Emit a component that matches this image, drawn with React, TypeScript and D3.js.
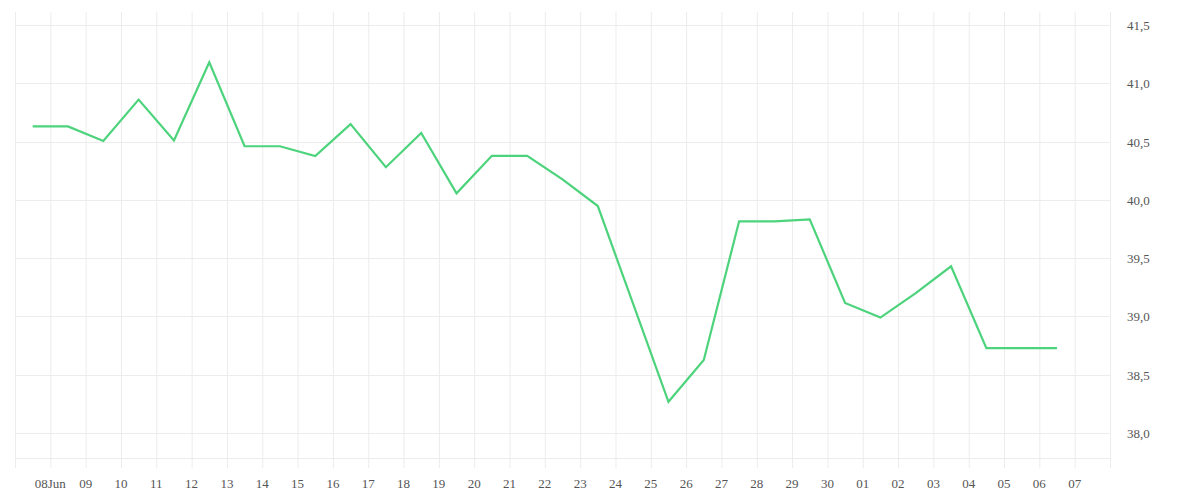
import React, { useEffect, useRef } from 'react';
import * as d3 from 'd3';

// daily readings, sampled at noon, starting 7 Jun
const startDate = new Date(Date.UTC(2024, 5, 7, 12));
const values = [
  40.63, 40.63, 40.505, 40.86, 40.51, 41.18, 40.46, 40.46, 40.376, 40.65,
  40.28, 40.573, 40.056, 40.378, 40.378, 40.176, 39.947, 39.107, 38.268, 38.626,
  39.816, 39.816, 39.833, 39.115, 38.99, 39.2, 39.43, 38.728, 38.728, 38.728,
];
const yTicks = [38.0, 38.5, 39.0, 39.5, 40.0, 40.5, 41.0, 41.5];

export default function App() {
  const svgRef = useRef<SVGSVGElement>(null);
  const width = 1200;
  const height = 500;

  useEffect(() => {
    if (!svgRef.current) return;
    const svg = d3.select(svgRef.current);
    svg.selectAll('*').remove();

    const margin = { top: 12, right: 90, bottom: 42, left: 15 };
    const x0 = margin.left;
    const x1 = width - margin.right;
    const y0 = height - margin.bottom;
    const y1 = margin.top;

    const data = values.map((v, i) => ({
      date: d3.utcHour.offset(startDate, i * 24),
      value: v,
    }));

    const xScale = d3.scaleUtc()
      .domain([new Date(Date.UTC(2024, 5, 7)), new Date(Date.UTC(2024, 6, 8))])
      .range([x0, x1]);

    // 41.5 at y=25, 38.0 at y=433
    const yScale = d3.scaleLinear()
      .domain([38.0, 41.5])
      .range([433, 25]);

    const gridColor = '#ececec';
    const days = d3.utcDay.range(new Date(Date.UTC(2024, 5, 7)), new Date(Date.UTC(2024, 6, 8)));

    // vertical grid + tick marks
    svg.append('g')
      .selectAll('line')
      .data(days)
      .join('line')
      .attr('x1', d => xScale(d) + 0.5)
      .attr('x2', d => xScale(d) + 0.5)
      .attr('y1', y1)
      .attr('y2', y0 + 10)
      .attr('stroke', gridColor)
      .attr('stroke-width', 1);

    // right edge
    svg.append('line')
      .attr('x1', x1 + 0.5)
      .attr('x2', x1 + 0.5)
      .attr('y1', y1)
      .attr('y2', y0 + 10)
      .attr('stroke', gridColor);

    // horizontal grid
    svg.append('g')
      .selectAll('line')
      .data(yTicks)
      .join('line')
      .attr('x1', x0)
      .attr('x2', x1)
      .attr('y1', d => Math.round(yScale(d)) + 0.5)
      .attr('y2', d => Math.round(yScale(d)) + 0.5)
      .attr('stroke', gridColor);

    // bottom border
    svg.append('line')
      .attr('x1', x0)
      .attr('x2', x1)
      .attr('y1', y0 + 0.5)
      .attr('y2', y0 + 0.5)
      .attr('stroke', gridColor);

    const fmtDay = d3.utcFormat('%d');
    svg.append('g')
      .selectAll('text')
      .data(days.slice(1))
      .join('text')
      .attr('x', d => xScale(d))
      .attr('y', 488)
      .attr('text-anchor', 'middle')
      .attr('fill', '#555')
      .style('font-family', '"Liberation Serif", serif')
      .style('font-size', '13px')
      .text(d => (d.getUTCDate() === 8 && d.getUTCMonth() === 5 ? fmtDay(d) + 'Jun' : fmtDay(d)));

    svg.append('g')
      .selectAll('text')
      .data(yTicks)
      .join('text')
      .attr('x', 1127)
      .attr('y', d => yScale(d) + 5)
      .attr('fill', '#555')
      .style('font-family', '"Liberation Serif", serif')
      .style('font-size', '13px')
      .text(d => d3.format('.1f')(d).replace('.', ','));

    const line = d3.line<{ date: Date; value: number }>()
      .x(d => xScale(d.date))
      .y(d => yScale(d.value));

    svg.append('path')
      .datum(data)
      .attr('fill', 'none')
      .attr('stroke', '#4cd37b')
      .attr('stroke-width', 2.2)
      .attr('stroke-linejoin', 'miter')
      .attr('d', line);
  }, []);

  return (
    <svg
      ref={svgRef}
      width={width}
      height={height}
      style={{ position: 'absolute', top: 0, left: 0, background: '#fff' }}
    />
  );
}
